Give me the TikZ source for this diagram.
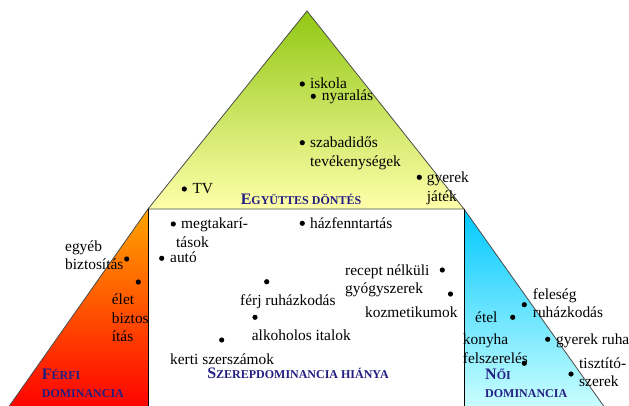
\documentclass[tikz,border=0pt]{standalone}
\usepackage{fontspec}
\setmainfont{Liberation Serif}
\usetikzlibrary{positioning}
\definecolor{greentop}{RGB}{146,200,20}
\definecolor{greenbot}{RGB}{255,255,170}
\definecolor{orangetop}{RGB}{255,165,0}
\definecolor{orangebot}{RGB}{255,0,0}
\definecolor{bluetop}{RGB}{0,200,255}
\definecolor{bluebot}{RGB}{205,255,255}
\definecolor{titleblue}{RGB}{35,31,130}
\newcommand{\bigletter}[1]{{\fontsize{16}{18.3}\selectfont #1}}
\newcommand{\smallletters}[1]{{\fontsize{12}{18.3}\selectfont #1}}

\begin{document}
\begin{tikzpicture}[x=1pt, y=-1pt,
    dot/.style={circle, fill=black, inner sep=0pt, minimum size=5.2pt},
    lbl/.style={anchor=north west, inner sep=0pt, align=left, font=\fontsize{15.4}{18.2}\selectfont},
    ttl/.style={inner sep=0pt, align=left, text=titleblue, font=\bfseries\fontsize{12}{18.3}\selectfont},
    edge/.style={draw=gray!60!black, line width=0.8pt}]
    \useasboundingbox (0,0) rectangle (629,405);
    \clip (0,0) rectangle (629,405);
    \fill[white] (0,0) rectangle (629,405);

    % Top triangle (joint decisions)
    \shade[top color=greentop, bottom color=greenbot] (307,11) -- (148,209) -- (464,209) -- cycle;
    \draw[edge] (148,209) -- (307,11) -- (464,209) -- cycle;

    % Left triangle (male dominance)
    \shade[top color=orangetop, bottom color=orangebot] (148,209) -- (6.5,410) -- (148,410) -- cycle;
    \draw[edge] (148,209) -- (6.5,410);

    % Right triangle (female dominance)
    \shade[top color=bluetop, bottom color=bluebot] (464,209) -- (606.5,410) -- (464,410) -- cycle;
    \draw[edge] (464,209) -- (606.5,410);

    % Middle field
    \draw[black, line width=1pt] (148,209) -- (148,410);
    \draw[black, line width=1pt] (464,209) -- (464,410);

    % Bullets
    \foreach \nm/\x/\y in {iskola/302.3/84, nyaralas/313.3/96.3, szabad/302.3/142.7,
        gyjatek/419.3/177.3, tv/184.3/189, megtak/173.3/224, haz/302.3/223.3,
        auto/161.7/258.3, egyeb/126.7/259, elet/138.3/282, recept/442.3/270,
        ferj/266.7/281.7, kozm/450.5/294, alkohol/255/317.3, kerti/221.7/340,
        feleseg/524.3/304.7, etel/512.7/317.3, gyruha/547.7/339.3,
        konyha/524.3/363.3, tisztito/571/374} {
        \node[dot] (d-\nm) at (\x,\y) {};
    }

    % Labels
    \node[lbl] (l-iskola) at (310,78) {iskola};
    \node[lbl] (l-nyaralas) at (321.7,90) {nyaralás};
    \node[lbl] (l-szabad) at (310,137) {szabadidős\\tevékenységek};
    \node[lbl] (l-gyjatek) at (426.7,172) {gyerek\\játék};
    \node[lbl] (l-tv) at (192.3,183) {TV};
    \node[lbl] (l-megtak) at (176,218) {\hspace*{5pt}megtakarí-\\tások};
    \node[lbl] (l-haz) at (310,217) {házfenntartás};
    \node[lbl] (l-auto) at (170,252) {autó};
    \node[lbl] (l-egyeb) at (65,240.7) {egyéb\\biztosítás};
    \node[lbl] (l-elet) at (111.7,294) {élet\\biztos\\ítás};
    \node[lbl] (l-recept) at (345,264.7) {recept nélküli\\gyógyszerek};
    \node[lbl] (l-ferj) at (240,294.7) {férj ruházkodás};
    \node[lbl] (l-kozm) at (365,306.7) {kozmetikumok};
    \node[lbl] (l-alkohol) at (251.7,330) {alkoholos italok};
    \node[lbl] (l-kerti) at (170,353.3) {kerti szerszámok};
    \node[lbl] (l-feleseg) at (532.7,288) {feleség\\ruházkodás};
    \node[lbl] (l-etel) at (475,311.3) {étel};
    \node[lbl] (l-gyruha) at (556,334) {gyerek ruha};
    \node[lbl] (l-konyha) at (462.7,334) {konyha\\felszerelés};
    \node[lbl] (l-tisztito) at (579,357.3) {tisztító-\\szerek};

    % Titles
    \node[ttl, anchor=base] (t-egyutt) at (301,204.5) {\bigletter{E}\smallletters{GYÜTTES DÖNTÉS}};
    \node[ttl, anchor=base] (t-szerep) at (298,378.5) {\bigletter{S}\smallletters{ZEREPDOMINANCIA HIÁNYA}};
    \node[ttl, anchor=north west] (t-ferfi) at (41.7,368.4) {\bigletter{F}\smallletters{ÉRFI}\\\smallletters{DOMINANCIA}};
    \node[ttl, anchor=north west] (t-noi) at (485,368.4) {\bigletter{N}\smallletters{ŐI}\\\smallletters{DOMINANCIA}};
\end{tikzpicture}
\end{document}
